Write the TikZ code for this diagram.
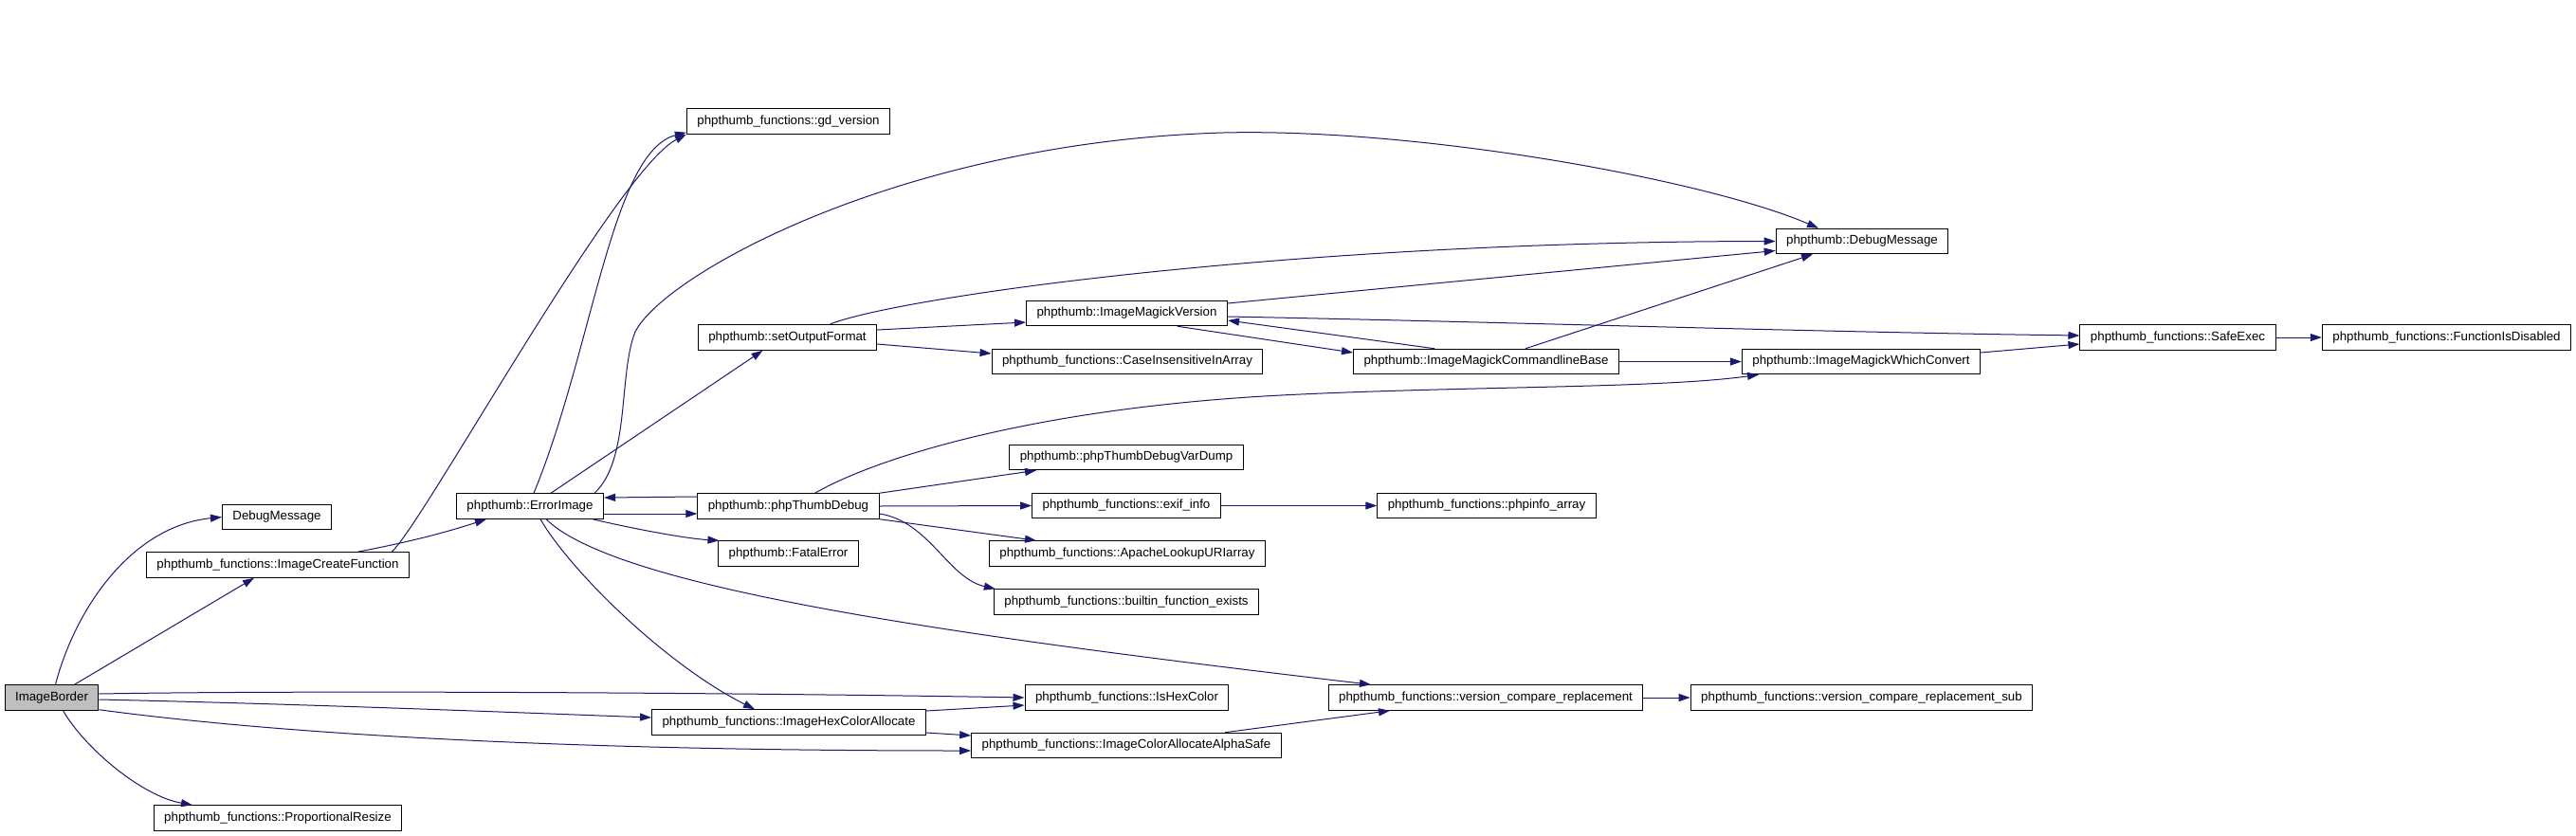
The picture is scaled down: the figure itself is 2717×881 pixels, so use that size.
\documentclass[tikz,border=0pt]{standalone}
\usepackage{fontspec}
\setmainfont{Liberation Sans}
\usetikzlibrary{arrows.meta}
\definecolor{edge}{HTML}{191970}
\definecolor{root}{HTML}{BFBFBF}

\begin{document}
\begin{tikzpicture}[x=1pt, y=-1pt,
    box/.style={draw=black, line width=1pt, fill=white, inner xsep=11pt, inner ysep=0pt,
                minimum height=26.5pt, font=\fontsize{13.3}{15}\selectfont},
    arr/.style={-{Triangle[length=12pt,width=8pt]}, draw=edge, line width=1pt}
]
\useasboundingbox (0,0) rectangle (2717,881);
\node[box, fill=root] (bdr) at (54.5,736) {ImageBorder};
\node[box] (dbgmsg) at (292,545.5) {DebugMessage};
\node[box] (mkfn) at (293,596) {phpthumb\_functions::ImageCreateFunction};
\node[box] (propr) at (293,863) {phpthumb\_functions::ProportionalResize};
\node[box] (errimg) at (559,534) {phpthumb::ErrorImage};
\node[box] (gdver) at (831.5,128) {phpthumb\_functions::gd\_version};
\node[box] (setfmt) at (830.5,356) {phpthumb::setOutputFormat};
\node[box] (ptdbg) at (831.5,534) {phpthumb::phpThumbDebug};
\node[box] (fatal) at (831.5,584) {phpthumb::FatalError};
\node[box] (hexalloc) at (832,762) {phpthumb\_functions::ImageHexColorAllocate};
\node[box] (imver) at (1188.5,330.5) {phpthumb::ImageMagickVersion};
\node[box] (caseins) at (1189,381.5) {phpthumb\_functions::CaseInsensitiveInArray};
\node[box] (vardump) at (1188,482.5) {phpthumb::phpThumbDebugVarDump};
\node[box] (exif) at (1188,533.5) {phpthumb\_functions::exif\_info};
\node[box] (apache) at (1189,584) {phpthumb\_functions::ApacheLookupURIarray};
\node[box] (builtin) at (1188,635) {phpthumb\_functions::builtin\_function\_exists};
\node[box] (ishex) at (1188.5,736) {phpthumb\_functions::IsHexColor};
\node[box] (alphasafe) at (1188,786.5) {phpthumb\_functions::ImageColorAllocateAlphaSafe};
\node[box] (imcmd) at (1567.5,381.5) {phpthumb::ImageMagickCommandlineBase};
\node[box] (phpinfo) at (1568,533.5) {phpthumb\_functions::phpinfo\_array};
\node[box] (vcr) at (1567,736) {phpthumb\_functions::version\_compare\_replacement};
\node[box] (pdbgmsg) at (1964,254.5) {phpthumb::DebugMessage};
\node[box] (whichconv) at (1963,381.5) {phpthumb::ImageMagickWhichConvert};
\node[box] (safeexec) at (2297,356) {phpthumb\_functions::SafeExec};
\node[box] (fndis) at (2580.5,356) {phpthumb\_functions::FunctionIsDisabled};
\node[box] (vcrsub) at (1963.5,736) {phpthumb\_functions::version\_compare\_replacement\_sub};

\draw[arr] ([xshift=4]bdr.north) .. controls (80,640) and (140,555) .. (dbgmsg.west);
\draw[arr] ([xshift=24]bdr.north) -- ([xshift=-25]mkfn.south);
\draw[arr] ([yshift=4]bdr.east) .. controls (330,728) and (800,731) .. (ishex.west);
\draw[arr] ([yshift=-2]bdr.east) .. controls (330,743) and (550,752) .. ([yshift=5]hexalloc.west);
\draw[arr] ([yshift=1]bdr.south east) .. controls (300,775) and (600,792) .. ([yshift=-5.5]alphasafe.west);
\draw[arr] ([xshift=12]bdr.south) .. controls (90,790) and (150,840) .. ([xshift=-90]propr.north);
\draw[arr] ([xshift=84]mkfn.north) .. controls (420,574) and (460,565) .. ([xshift=-46]errimg.south);
\draw[arr] ([xshift=120]mkfn.north) .. controls (445,555) and (650,180) .. (gdver.south west);
\draw[arr] ([xshift=4]errimg.north) .. controls (625,370) and (645,160) .. ([yshift=2]gdver.south west);
\draw[arr] ([xshift=68]errimg.north) .. controls (665,485) and (652,395) .. (670,350)
    .. controls (700,290) and (950,150) .. (1290,140)
    .. controls (1500,135) and (1800,190) .. ([xshift=-46]pdbgmsg.north);
\draw[arr] ([xshift=22]errimg.north) -- ([xshift=-26]setfmt.south);
\draw[arr] ([yshift=-8]errimg.east) -- ([yshift=-8]ptdbg.west);
\draw[arr] ([yshift=10]ptdbg.west) -- ([yshift=9]errimg.east);
\draw[arr] ([xshift=66]errimg.south) .. controls (660,556) and (720,568) .. ([xshift=-73]fatal.north);
\draw[arr] ([xshift=11]errimg.south) .. controls (600,600) and (700,700) .. ([xshift=-36]hexalloc.north);
\draw[arr] ([xshift=17]errimg.south) .. controls (650,620) and (1000,670) .. ([xshift=-121]vcr.north);
\draw[arr] ([xshift=28]ptdbg.north) .. controls (930,480) and (1100,430) .. (1351,417)
    .. controls (1550,407) and (1750,410) .. ([xshift=-108]whichconv.south);
\draw[arr] (ptdbg.north east) -- ([xshift=-95]vardump.south);
\draw[arr] (ptdbg.east) -- (exif.west);
\draw[arr] (ptdbg.south east) -- ([xshift=-96]apache.north);
\draw[arr] ([yshift=-8]ptdbg.east) .. controls (980,550) and (1000,610) .. ([xshift=2]builtin.north west);
\draw[arr] (exif.east) -- (phpinfo.west);
\draw[arr] ([yshift=8]setfmt.east) -- ([yshift=-9.5]imver.west);
\draw[arr] ([yshift=-7]setfmt.east) -- ([yshift=8.5]caseins.west);
\draw[arr] ([xshift=44.5]setfmt.north) .. controls (940,315) and (1350,255) .. (pdbgmsg.west);
\draw[arr] ([yshift=10.5]imver.east) -- ([yshift=-10]pdbgmsg.west);
\draw[arr] ([xshift=53.5]imver.south) -- ([yshift=9.5]imcmd.west);
\draw[arr] ([xshift=-54.5]imcmd.north) -- ([yshift=-7.5]imver.east);
\draw[arr] ([yshift=-3.5]imver.east) .. controls (1600,340) and (1900,350) .. ([yshift=2]safeexec.west);
\draw[arr] ([xshift=41.5]imcmd.north) -- ([xshift=-52]pdbgmsg.south);
\draw[arr] (imcmd.east) -- (whichconv.west);
\draw[arr] ([yshift=9.5]whichconv.east) -- ([yshift=-7]safeexec.west);
\draw[arr] (safeexec.east) -- (fndis.west);
\draw[arr] ([yshift=12]hexalloc.east) -- ([yshift=-8]ishex.west);
\draw[arr] ([yshift=-11]hexalloc.east) -- ([yshift=10.5]alphasafe.west);
\draw[arr] ([xshift=104]alphasafe.north) -- ([xshift=-101]vcr.south);
\draw[arr] (vcr.east) -- (vcrsub.west);
\end{tikzpicture}
\end{document}
